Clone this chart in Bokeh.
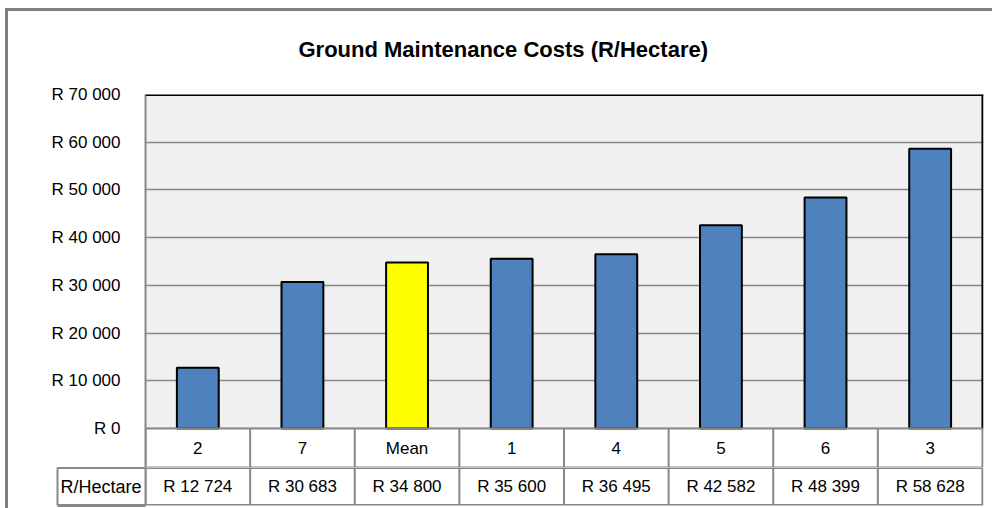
from bokeh.plotting import figure
from bokeh.layouts import column
from bokeh.models import Range1d, FixedTicker, Span, LinearAxis
from bokeh.embed import file_html
from bokeh.resources import INLINE
from bokeh.core.properties import value

# ---- data ----
categories = ["2", "7", "Mean", "1", "4", "5", "6", "3"]
costs = [12724, 30683, 34800, 35600, 36495, 42582, 48399, 58628]
cost_labels = ["R 12 724", "R 30 683", "R 34 800", "R 35 600", "R 36 495", "R 42 582", "R 48 399", "R 58 628"]
y_ticks = [0, 10000, 20000, 30000, 40000, 50000, 60000, 70000]
y_tick_labels = ["R 0", "R 10 000", "R 20 000", "R 30 000", "R 40 000", "R 50 000", "R 60 000", "R 70 000"]
row_header = "R/Hectare"
chart_title = "Ground Maintenance Costs (R/Hectare)"
highlight = "Mean"

# ---- layout (screen pixels) ----
W, H = 992, 508
FRAME_TOP, ZERO_Y, ROW1_Y, FRAME_BOTTOM = 94, 428, 467, 505
FRAME_LEFT, FRAME_RIGHT = 145, 983
TITLE_LEFT = 298
HEADER_CELL_WIDTH = 88    # width taken by the header label panel (standoff + text)
FONT = value("Liberation Sans")
GREY = "#888888"

n = len(categories)
y_max = y_ticks[-1]
px = y_max / (ZERO_Y - FRAME_TOP)
y_row1 = -(ROW1_Y - ZERO_Y) * px
x_end = n + 0.01

xs = [i + 0.5 for i in range(n)]
colors = ["#FFFF00" if c == highlight else "#4F81BD" for c in categories]
edges = list(range(n + 1))

# ---------------- chart + category row ----------------
p = figure(width=W, height=ROW1_Y, output_backend="svg", toolbar_location=None,
           x_range=Range1d(0, x_end), y_range=Range1d(y_row1, y_max),
           x_axis_location=None, min_border_left=FRAME_LEFT, min_border_right=W - FRAME_RIGHT,
           min_border_top=FRAME_TOP, min_border_bottom=0)
p.background_fill_color = "#F0F0F0"
p.border_fill_alpha = 0
p.outline_line_color = None

p.title.text = chart_title
p.title.align = "left"
p.title.offset = TITLE_LEFT - FRAME_LEFT
p.title.standoff = 66
p.title.text_font = "Liberation Sans"
p.title.text_font_size = "22px"
p.title.text_font_style = "bold"
p.title.text_color = "black"

p.xgrid.visible = False
p.ygrid.ticker = FixedTicker(ticks=y_ticks)
p.ygrid.grid_line_color = GREY
p.ygrid.grid_line_width = 1.5

ax = p.yaxis[0]
ax.ticker = FixedTicker(ticks=y_ticks)
ax.major_label_overrides = {t: l for t, l in zip(y_ticks, y_tick_labels)}
ax.axis_line_color = GREY
ax.axis_line_width = 2
ax.major_tick_line_color = None
ax.minor_tick_line_color = None
ax.major_label_standoff = 19
ax.major_label_text_font = "Liberation Sans"
ax.major_label_text_font_size = "17px"
ax.major_label_text_color = "black"

# white table row below zero
p.quad(left=0, right=x_end, bottom=y_row1, top=0, fill_color="white", line_color=None)

# bars
p.vbar(x=xs, top=costs, width=0.4, fill_color=colors, line_color="black", line_width=2)

# plot-area borders
p.add_layout(Span(location=y_max, dimension="width", line_color="black", line_width=3))
p.segment(x0=[n], y0=[0], x1=[n], y1=[y_max], line_color="black", line_width=2)

# category row grid
p.segment(x0=edges, y0=[y_row1] * len(edges), x1=edges, y1=[0] * len(edges), line_color=GREY, line_width=2)
p.segment(x0=[0, 0], y0=[0, y_row1], x1=[n, n], y1=[0, y_row1], line_color=GREY, line_width=2)
p.text(x=xs, y=[y_row1 / 2] * n, text=categories, text_align="center", text_baseline="middle",
       text_font=FONT, text_font_size="17px", text_color="black")

# ---------------- value row ----------------
t = figure(width=W, height=H - ROW1_Y, output_backend="svg", toolbar_location=None,
           x_range=Range1d(0, x_end), y_range=Range1d(0, 1),
           x_axis_location=None,
           min_border_left=FRAME_LEFT, min_border_right=W - FRAME_RIGHT,
           min_border_top=0, min_border_bottom=H - FRAME_BOTTOM)
t.background_fill_color = "white"
t.border_fill_alpha = 0
t.outline_line_color = None
t.xgrid.visible = False
t.ygrid.visible = False

# row header text via the y axis
hx = t.yaxis[0]
hx.ticker = FixedTicker(ticks=[0.5])
hx.major_label_overrides = {0.5: row_header}
hx.major_tick_line_color = None
hx.major_tick_out = 0
hx.major_tick_in = 0
hx.minor_tick_line_color = None
hx.axis_line_color = GREY
hx.axis_line_width = 2
hx.major_label_standoff = 4
hx.major_label_text_font = "Liberation Sans"
hx.major_label_text_font_size = "18px"
hx.major_label_text_color = "black"

# outer edges of the header cell: axis line = left edge, inward ticks = top & bottom edges
edge_axis = LinearAxis(bounds=(0, 1), ticker=FixedTicker(ticks=[0, 1]),
                       major_label_overrides={0: "", 1: ""},
                       axis_line_color=GREY, axis_line_width=2,
                       major_tick_line_color=GREY, major_tick_line_width=3,
                       major_tick_in=HEADER_CELL_WIDTH, major_tick_out=0,
                       minor_tick_line_color=None, major_label_standoff=0)
t.add_layout(edge_axis, "left")

t.segment(x0=edges, y0=[0] * len(edges), x1=edges, y1=[1] * len(edges), line_color=GREY, line_width=2)
t.segment(x0=[0, 0], y0=[0, 1], x1=[n, n], y1=[0, 1], line_color=GREY, line_width=3)
t.text(x=xs, y=[0.5] * n, text=cost_labels, text_align="center", text_baseline="middle",
       text_font=FONT, text_font_size="17px", text_color="black")

layout = column(p, t, spacing=0)
layout.styles = {
    "background": "linear-gradient(#808080,#808080) 5px 8px / 3px 100% no-repeat, "
                  "linear-gradient(#808080,#808080) 5px 8px / 100% 3px no-repeat, white"
}

open("out.html", "w").write(file_html(layout, INLINE))
